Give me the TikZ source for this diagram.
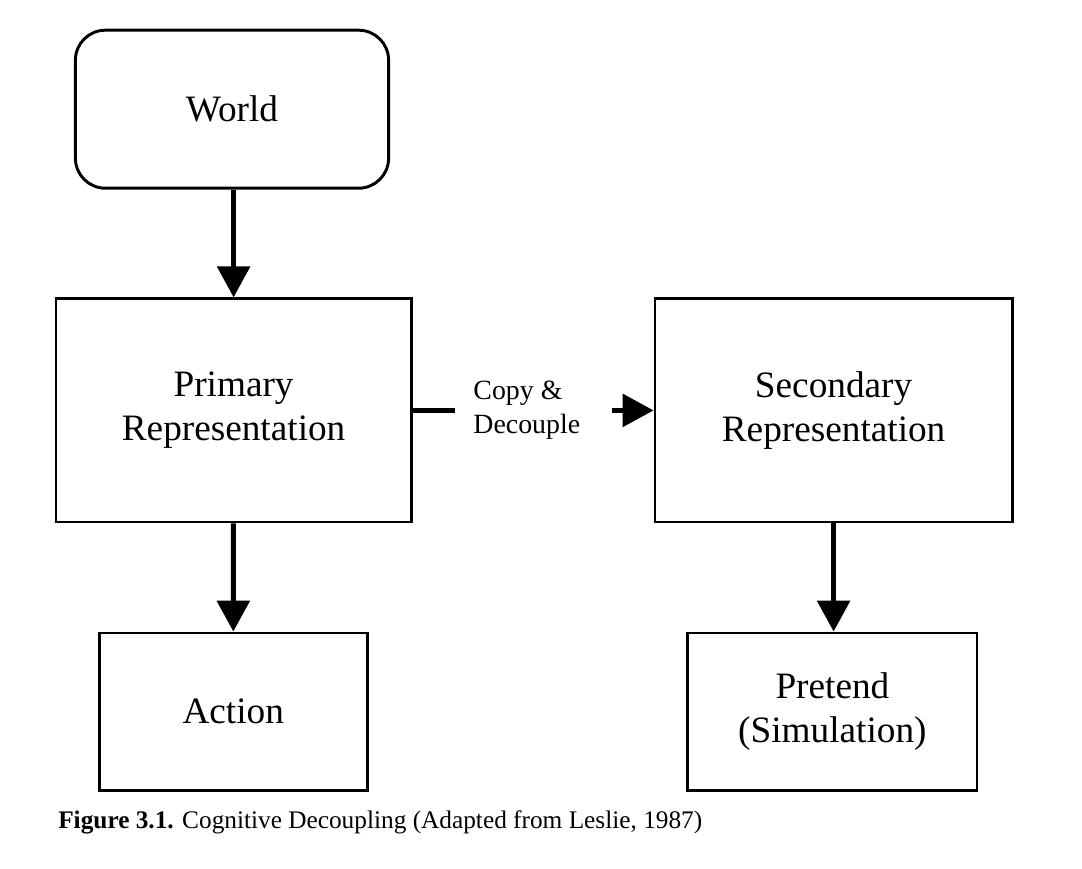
\documentclass[tikz,border=0pt]{standalone}
\usepackage{fontspec}
\setmainfont{Liberation Serif}
\usetikzlibrary{arrows.meta}

\begin{document}
\begin{tikzpicture}[
        box/.style={draw, line width=2.1pt, rectangle, align=center, inner sep=0pt,
            font=\fontsize{26.5}{31}\selectfont},
        world/.style={box, rounded corners=0.75cm},
        label/.style={align=left, inner sep=0pt, font=\fontsize{19.8}{24}\selectfont},
        arrow/.style={-{Triangle[length=22pt,width=23pt]}, line width=3.5pt},
        link/.style={line width=3.5pt}
    ]
        \useasboundingbox (0,0) rectangle (27.05,-21.7);

        % Boxes (absolute positioning)
        \node[world, minimum width=7.83cm, minimum height=3.95cm] (world) at (5.8, -2.73) {World};
        \node[box, minimum width=8.88cm, minimum height=5.58cm] (primary) at (5.84, -10.26) {Primary\\Representation};
        \node[box, minimum width=8.93cm, minimum height=5.58cm] (secondary) at (20.84, -10.26) {Secondary\\Representation};
        \node[box, minimum width=6.7cm, minimum height=3.93cm] (action) at (5.83, -17.79) {Action};
        \node[box, minimum width=7.23cm, minimum height=3.93cm] (pretend) at (20.81, -17.79) {Pretend\\(Simulation)};

        % Copy & Decouple link
        \coordinate (cutleft) at (11.38, -10.26);
        \coordinate (cutright) at (15.3, -10.26);
        \node[label, anchor=west] (copy) at (11.83, -10.26) {Copy \&\\Decouple};

        % Caption
        \node[anchor=base west, inner sep=0pt, font=\fontsize{18}{21}\selectfont] (caption) at (1.45, -20.7)
            {\textbf{Figure 3.1.} Cognitive Decoupling (Adapted from Leslie, 1987)};

        % Arrows
        \draw[arrow] (world.south -| primary) -- (primary);
        \draw[arrow] (primary) -- (action);
        \draw[arrow] (secondary) -- (secondary |- pretend.north);
        \draw[link] (primary.east) -- (cutleft);
        \draw[arrow] (cutright) -- (secondary.west);

    \end{tikzpicture}
\end{document}
